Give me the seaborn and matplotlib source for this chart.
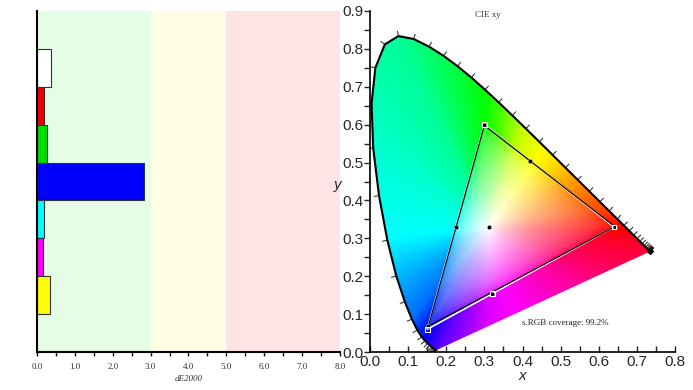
import numpy as np
import pandas as pd
import seaborn as sns
import matplotlib.pyplot as plt
from matplotlib.patches import Polygon
from matplotlib.collections import LineCollection
from matplotlib.colors import hsv_to_rgb
from matplotlib.ticker import MultipleLocator

# dE2000 per patch (left panel)
patches = ["White", "Red", "Green", "Blue", "Cyan", "Magenta", "Yellow"]
de2000 = [0.37, 0.18, 0.26, 2.82, 0.19, 0.15, 0.33]
bar_colors = ["#ffffff", "#ee0000", "#00dd00", "#0000ff", "#00ffff", "#ff00ff", "#ffff00"]

# CIE 1931 spectral locus, 380-700 nm in 5 nm steps
wl = list(range(380, 705, 5))
loc_x = [0.1741, 0.1740, 0.1738, 0.1736, 0.1733, 0.1730, 0.1726, 0.1721, 0.1714, 0.1703,
         0.1689, 0.1669, 0.1644, 0.1611, 0.1566, 0.1510, 0.1440, 0.1355, 0.1241, 0.1096,
         0.0913, 0.0687, 0.0454, 0.0235, 0.0082, 0.0039, 0.0139, 0.0389, 0.0743, 0.1142,
         0.1547, 0.1929, 0.2296, 0.2658, 0.3016, 0.3373, 0.3731, 0.4087, 0.4441, 0.4788,
         0.5125, 0.5448, 0.5752, 0.6029, 0.6270, 0.6482, 0.6658, 0.6801, 0.6915, 0.7006,
         0.7079, 0.7140, 0.7190, 0.7230, 0.7260, 0.7283, 0.7300, 0.7311, 0.7320, 0.7327,
         0.7334, 0.7340, 0.7344, 0.7346, 0.7347]
loc_y = [0.0050, 0.0050, 0.0049, 0.0049, 0.0048, 0.0048, 0.0048, 0.0048, 0.0051, 0.0058,
         0.0069, 0.0086, 0.0109, 0.0138, 0.0177, 0.0227, 0.0297, 0.0399, 0.0578, 0.0868,
         0.1327, 0.2007, 0.2950, 0.4127, 0.5384, 0.6548, 0.7502, 0.8120, 0.8338, 0.8262,
         0.8059, 0.7816, 0.7543, 0.7243, 0.6923, 0.6589, 0.6245, 0.5896, 0.5547, 0.5202,
         0.4866, 0.4544, 0.4242, 0.3965, 0.3725, 0.3514, 0.3340, 0.3197, 0.3083, 0.2993,
         0.2920, 0.2859, 0.2809, 0.2770, 0.2740, 0.2717, 0.2700, 0.2689, 0.2680, 0.2673,
         0.2666, 0.2660, 0.2656, 0.2654, 0.2653]

# sRGB target primaries and measured points
tgt_x = [0.640, 0.300, 0.150, 0.640]
tgt_y = [0.330, 0.600, 0.060, 0.330]
meas_x = [0.642, 0.300, 0.153, 0.642]
meas_y = [0.331, 0.598, 0.068, 0.331]
sec_x = [0.225, 0.419, 0.321, 0.313]   # cyan, yellow, magenta, white
sec_y = [0.329, 0.505, 0.154, 0.329]

# hue seen in the reference fill, by direction from the white point (degrees)
fill_angle = [-6, 10, 39, 71, 92, 116, 147, 186, 230, 248, 267, 325, 354]
fill_hue = [-10, 19, 47, 73, 120, 156, 170, 180, 214, 262, 290, 322, 350]

sns.set_style("white")
plt.rcParams["font.family"] = ["Liberation Sans", "DejaVu Sans"]

fig = plt.figure(figsize=(6.93, 3.90), dpi=100)
ax = fig.add_axes([0.0534, 0.0974, 0.4372, 0.8744])
ax2 = fig.add_axes([0.534, 0.0974, 0.440, 0.8744])

# ---- left: dE2000 bars
ax.axvspan(0, 3, color="#e4fde4", lw=0)
ax.axvspan(3, 5, color="#fefee4", lw=0)
ax.axvspan(5, 8, color="#fee4e4", lw=0)
df = pd.DataFrame({"patch": patches, "de": de2000})
sns.barplot(data=df, x="de", y="patch", hue="patch", palette=bar_colors, legend=False,
            orient="h", width=1.0, edgecolor="#333333", linewidth=0.8, ax=ax, saturation=1)
ax.set_xlim(0, 8)
ax.set_ylim(7.5, -1.5)
ax.set_yticks([])
ax.set_ylabel("")
ax.xaxis.set_minor_locator(MultipleLocator(0.5))
ax.set_xticks(np.arange(0, 8.1, 1))
ax.set_xticklabels([f"{v:.1f}" for v in np.arange(0, 8.1, 1)], family="Liberation Serif", fontsize=6.5)
ax.tick_params(axis="x", which="both", direction="out", bottom=True, length=3, width=1, pad=5, colors="black")
ax.tick_params(axis="x", which="major", labelcolor="#333333")
ax.set_xlabel("dE2000", family="Liberation Serif", style="italic", fontsize=6.5, labelpad=3, color="#333333")
for s in ["top", "right"]:
    ax.spines[s].set_visible(False)
for s in ["left", "bottom"]:
    ax.spines[s].set_color("black")
    ax.spines[s].set_linewidth(1.5)

# ---- right: CIE xy diagram
ax2.set_xlim(0, 0.8)
ax2.set_ylim(0, 0.9)
gx = np.linspace(0.0005, 0.8, 480)
gy = np.linspace(0.0005, 0.9, 540)
XX, YY = np.meshgrid(gx, gy)
Xc = XX / YY
Zc = (1 - XX - YY) / YY
M = np.array([[3.2406, -1.5372, -0.4986], [-0.9689, 1.8758, 0.0415], [0.0557, -0.2040, 1.0570]])
lin = np.stack([M[i, 0] * Xc + M[i, 1] + M[i, 2] * Zc for i in range(3)], axis=-1)
lin = np.clip(lin, 0, None)
lin = lin / lin.max(axis=-1, keepdims=True)
enc = np.where(lin <= 0.0031308, 12.92 * lin, 1.055 * lin ** (1 / 2.4) - 0.055)
sat = 1 - enc.min(axis=-1)
ang = np.degrees(np.arctan2(YY - 0.329, XX - 0.3127))
ang = np.where(ang < -6, ang + 360, ang)
hue = (np.interp(ang, fill_angle, fill_hue) % 360) / 360
rgb = hsv_to_rgb(np.stack([hue, np.clip(sat, 0, 1), np.ones_like(hue)], axis=-1))
img = ax2.imshow(rgb, origin="lower", extent=[0, 0.8, 0, 0.9], aspect="auto", interpolation="bilinear")
clip = Polygon(np.column_stack([loc_x, loc_y]), closed=True, transform=ax2.transData)
img.set_clip_path(clip)

loc = pd.DataFrame({"x": loc_x, "y": loc_y})
sns.lineplot(data=loc, x="x", y="y", sort=False, color="black", lw=1.5, ax=ax2, estimator=None)

# wavelength ticks along the locus
px = np.array(loc_x)
py = np.array(loc_y)
segs = []
for i in range(8, len(px) - 1):
    dx = px[i + 1] - px[i - 1]
    dy = py[i + 1] - py[i - 1]
    n = np.hypot(dx, dy)
    if n == 0:
        continue
    nx, ny = dy / n, -dx / n
    if (px[i] - 0.33) * nx + (py[i] - 0.33) * ny < 0:
        nx, ny = -nx, -ny
    segs.append([(px[i], py[i]), (px[i] + 0.014 * nx, py[i] + 0.014 * ny)])
ax2.add_collection(LineCollection(segs, colors="#222222", linewidths=0.7))
ax2.plot([px[-1]], [py[-1]], "D", color="black", ms=3)

tgt = pd.DataFrame({"x": tgt_x, "y": tgt_y})
meas = pd.DataFrame({"x": meas_x, "y": meas_y})
sns.lineplot(data=tgt, x="x", y="y", sort=False, color="white", lw=1.2, ax=ax2, estimator=None)
sns.lineplot(data=meas, x="x", y="y", sort=False, color="black", lw=0.9, ax=ax2, estimator=None)
sns.scatterplot(data=meas.iloc[:3], x="x", y="y", color="black", s=10, ax=ax2, zorder=5)
sns.scatterplot(x=tgt_x[:3], y=tgt_y[:3], marker="s", facecolor="none", edgecolor="white",
                s=12, linewidth=0.8, ax=ax2, zorder=6)
sns.scatterplot(x=sec_x, y=sec_y, color="black", s=10, ax=ax2, zorder=5)
sns.scatterplot(x=[sec_x[2]], y=[sec_y[2]], marker="s", facecolor="none", edgecolor="white",
                s=12, linewidth=0.8, ax=ax2, zorder=6)

ax2.text(0.31, 0.89, "CIE xy", family="Liberation Serif", fontsize=6.5, ha="center", va="center", color="#333333")
ax2.text(0.511, 0.0765, "s.RGB coverage: 99.2%", family="Liberation Serif", fontsize=6.5,
         ha="center", va="center", color="#222222")

ax2.xaxis.set_minor_locator(MultipleLocator(0.05))
ax2.yaxis.set_minor_locator(MultipleLocator(0.05))
ax2.set_xticks(np.arange(0, 0.81, 0.1))
ax2.set_xticklabels([f"{v:.1f}" for v in np.arange(0, 0.81, 0.1)])
ax2.set_yticks(np.arange(0, 0.91, 0.1))
ax2.set_yticklabels([f"{v:.1f}" for v in np.arange(0, 0.91, 0.1)])
ax2.tick_params(axis="x", which="both", direction="in", bottom=True, length=4, width=1, labelsize=11, pad=2)
ax2.tick_params(axis="y", which="both", direction="out", left=True, length=4, width=1, labelsize=11, pad=1)
ax2.set_xlabel("x", style="italic", fontsize=11, labelpad=0)
ax2.set_ylabel("y", style="italic", fontsize=11, rotation=0, ha="center", va="center")
ax2.yaxis.set_label_coords(-0.105, 0.49)
for s in ["top", "right"]:
    ax2.spines[s].set_visible(False)
for s in ["left", "bottom"]:
    ax2.spines[s].set_color("black")
    ax2.spines[s].set_linewidth(1.2)

plt.savefig("out.png", dpi=100)
